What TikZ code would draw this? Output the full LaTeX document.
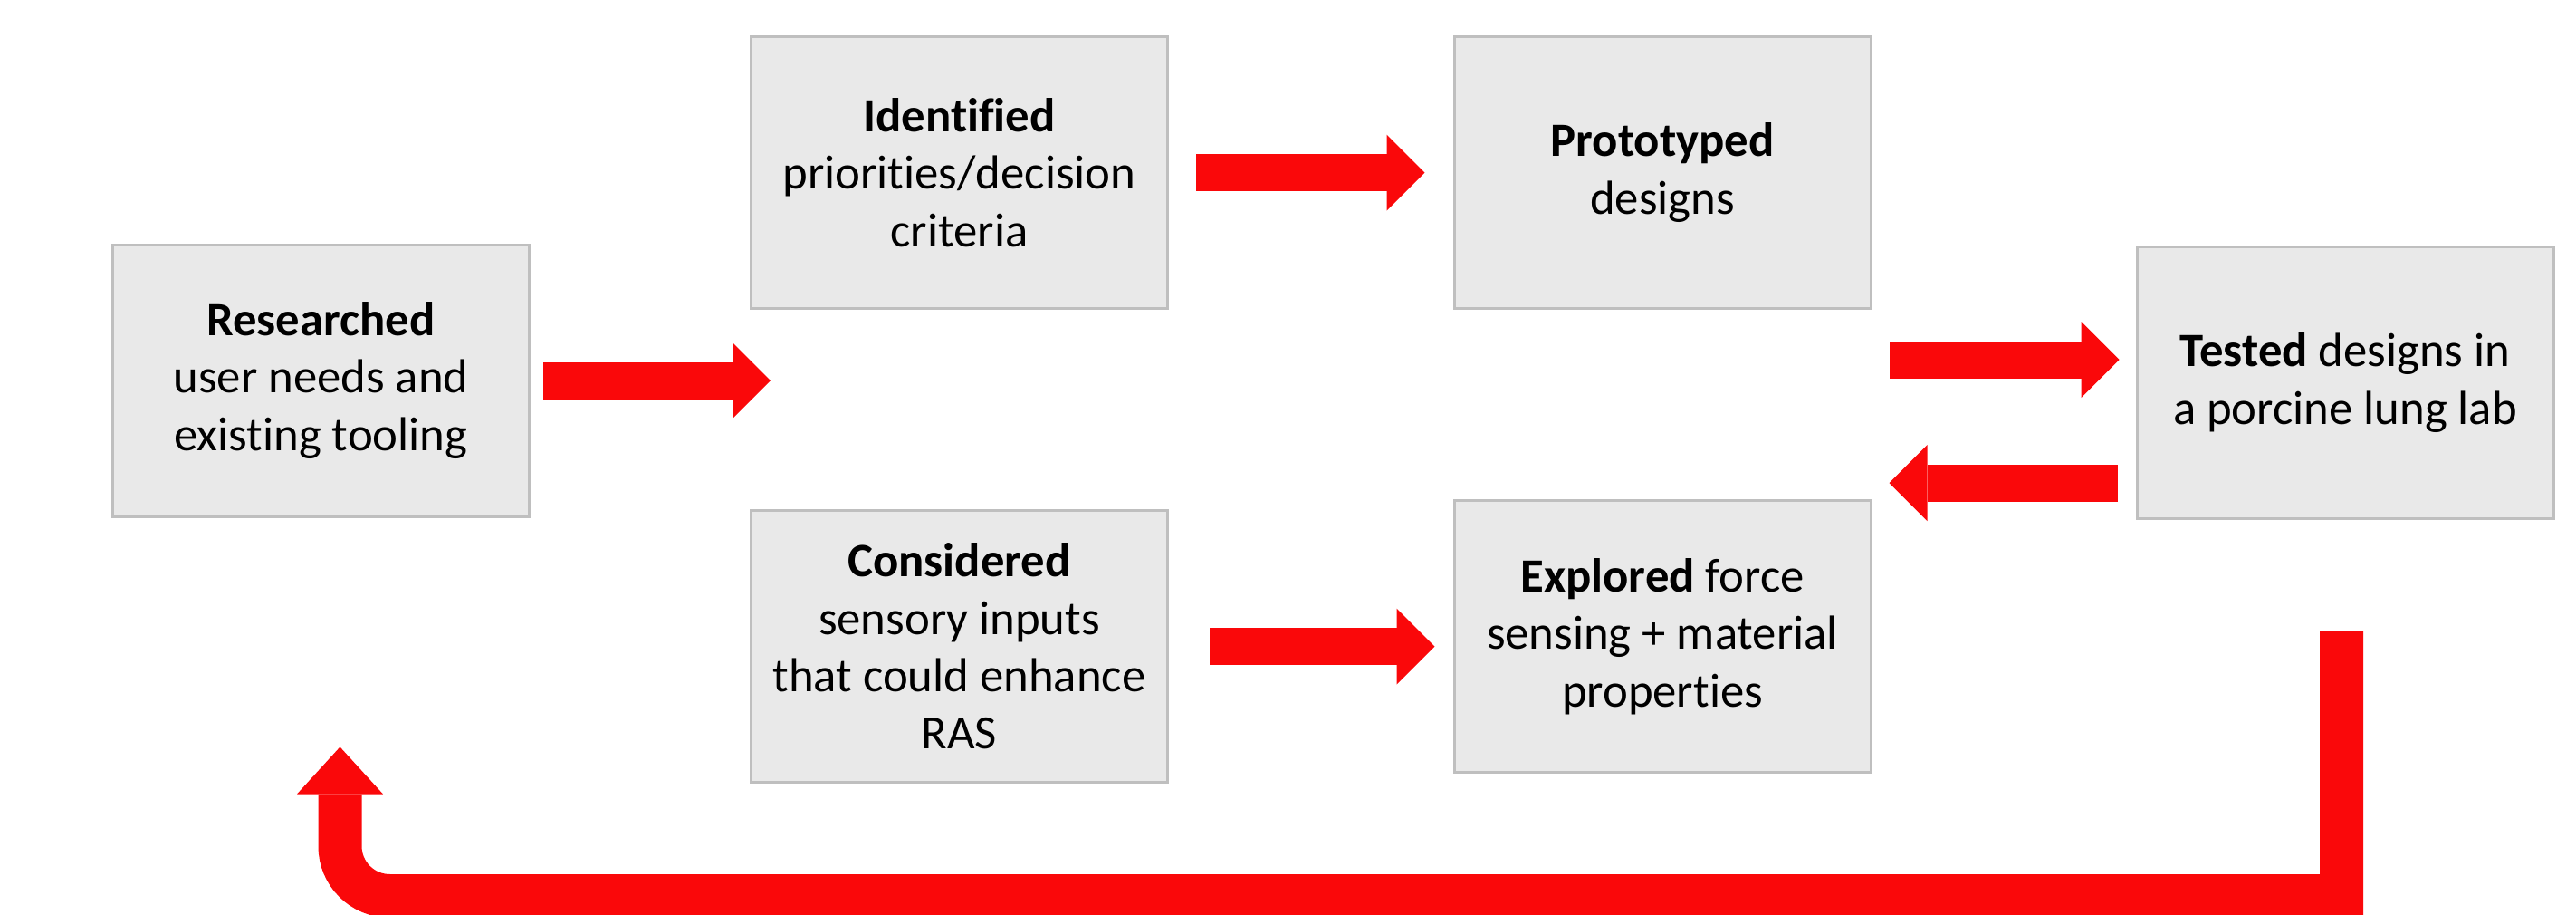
\documentclass[tikz,border=0pt]{standalone}
\usepackage{fontspec}
\setmainfont[Ligatures=NoCommon]{Carlito}
\usetikzlibrary{arrows.meta,calc,positioning}
\definecolor{boxgray}{HTML}{E9E9E9}
\definecolor{boxline}{HTML}{BFBFBF}
\definecolor{flowred}{HTML}{FA080A}

\begin{document}
\begin{tikzpicture}[
                    stage/.style={rectangle, draw=boxline, fill=boxgray, line width=0.03cm,
                                  minimum width=4.6cm, minimum height=3cm, align=center,
                                  font=\fontsize{15}{18}\selectfont},
                    flow/.style={draw=flowred, line width=0.41cm,
                                 -{Triangle[width=0.84cm, length=0.42cm, line width=0pt, fill=flowred]}},
                    returnflow/.style={draw=flowred, line width=0.48cm,
                                 -{Triangle[width=0.95cm, length=0.52cm, line width=0pt, fill=flowred]}},
                ]
                \useasboundingbox (0,0) rectangle (28.45,-10.09);

                % the six stages
                \node[stage] (res) at (3.545,-4.20) {\textbf{Researched}\\user needs and\\existing tooling};
                \node[stage] (ide) at (10.595,-1.905) {\textbf{Identified}\\priorities/decision\\criteria};
                \node[stage] (pro) at (18.36,-1.905) {\textbf{Prototyped}\\designs};
                \node[stage] (tes) at (25.90,-4.225) {\textbf{Tested} designs in\\a porcine lung lab};
                \node[stage] (con) at (10.595,-7.135) {\textbf{Considered}\\sensory inputs\\that could enhance\\RAS};
                \node[stage] (exp) at (18.36,-7.025) {\textbf{Explored} force\\sensing + material\\properties};

                % helper points
                \coordinate (split) at ($(res.east)+(2.65,0)$);
                \coordinate (upin) at ($(tes.west)+(0,0.255)$);
                \coordinate (backout) at ($(tes.west)+(0,-1.105)$);
                \coordinate (loopstart) at ($(tes.south)+(-0.04,-1.22)$);
                \coordinate (loopend) at ($(res.south)+(0.21,-2.53)$);
                \coordinate (loopbase) at (0,-9.89);

                \draw[flow, shorten <=0.14cm] (res.east) -- (split);
                \draw[flow, shorten <=0.30cm, shorten >=0.31cm] (ide.east) -- (pro.west);
                \draw[flow, shorten <=0.19cm, shorten >=0.18cm] (upin -| pro.east) -- (upin);
                \draw[flow, shorten <=0.20cm, shorten >=0.19cm] (backout) -- (backout -| exp.east);
                \draw[flow, shorten <=0.45cm, shorten >=0.20cm] (con.east) -- (con.east -| exp.west);

                % back round to the start
                \draw[returnflow] (loopstart) -- (loopstart |- loopbase)
                    -- ($(loopend |- loopbase)+(0.55,0)$)
                    arc[start angle=-90, end angle=-180, radius=0.55cm] -- (loopend);
                \end{tikzpicture}
\end{document}
